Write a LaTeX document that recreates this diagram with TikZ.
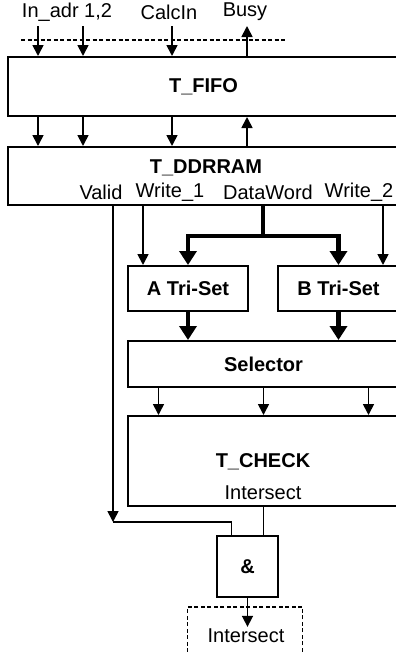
\documentclass[tikz,border=0pt]{standalone}
\usepackage{fontspec}
\setmainfont{Liberation Sans}
\usetikzlibrary{arrows.meta, positioning, calc}

\begin{document}
\begin{tikzpicture}[
    x=1pt, y=-1pt,
    every node/.style={font=\fontsize{20}{23}\selectfont, inner sep=0pt},
    unit/.style={draw, line width=2pt, font=\fontsize{20}{23}\selectfont\bfseries},
    title/.style={font=\fontsize{20}{23}\selectfont\bfseries},
    sig/.style={line width=1.7pt, -{Triangle[width=11pt, length=11pt]}},
    bus/.style={line width=4.5pt, -{Triangle[width=17pt, length=14pt]}},
    wire/.style={line width=1.2pt},
    frame/.style={dash pattern=on 4pt off 2.5pt, line width=1.5pt},
]
\useasboundingbox (0,0) rectangle (396,653);

% ---- Interface signals ----
\node (inadr)  at (67,12)  {In\_adr 1,2};
\node (calcin) at (169,12) {CalcIn};
\node (busy)   at (245,12) {Busy};
\draw[frame] (21,40) -- (286,40);

% ---- FIFO and DDR RAM ----
\node[unit, minimum width=391pt, minimum height=59pt] (fifo) at (203.5,86.5) {T\_FIFO};
\node[unit, minimum width=391pt, minimum height=58pt] (ddr)  at (203.5,176) {};
\node[title] (ddrname) at (206,168) {T\_DDRRAM};

% ---- Port labels ----
\node (lvalid) at (101,192) {Valid};
\node (lw1)    at (170,192) {Write\_1};
\node (ldw)    at (268,192) {DataWord};
\node (lw2)    at (359,192) {Write\_2};

% ---- Sets, selector, check ----
\node[unit, minimum width=120pt, minimum height=45pt] (aset)  at (188,288.5)   {A Tri-Set};
\node[unit, minimum width=121pt, minimum height=45pt] (bset)  at (338.5,288.5) {B Tri-Set};
\node[unit, minimum width=271pt, minimum height=46pt] (sel)   at (263.5,364)   {Selector};
\node[unit, minimum width=271pt, minimum height=90pt] (check) at (263.5,461)   {};
\node[title] (checkname) at (263,462) {T\_CHECK};
\node (checkout) at (263,493) {Intersect};

% ---- AND gate and output ----
\node[unit, minimum width=61pt, minimum height=61pt] (and) at (247.5,566.5) {\&};
\node[draw, frame, minimum width=115pt, minimum height=60pt, anchor=north] (outbox) at (245,606) {};
\node (outlbl) at (246,636) {Intersect};

% ---- Port positions ----
\coordinate (pa)    at (38,26);
\coordinate (pb)    at (83,26);
\coordinate (pc)    at (172,26);
\coordinate (pbusy) at (247,26);
\coordinate (valid) at (113,522);
\coordinate (w1)    at (143,205);
\coordinate (dw)    at (263,236);
\coordinate (w2)    at (383,205);

% ---- Inputs through the FIFO ----
\foreach \p in {pa,pb,pc} {
  \draw[sig] (\p) -- (\p |- fifo.north);
  \draw[sig] (\p |- fifo.south) -- (\p |- ddr.north);
}
\draw[sig] (pbusy |- fifo.north) -- (pbusy);
\draw[sig] (pbusy |- ddr.north) -- (pbusy |- fifo.south);

% ---- DDR RAM outputs ----
\draw[sig] (valid |- ddr.south) -- (valid);
\draw[sig] (w1 |- ddr.south) -- (w1 |- aset.north);
\draw[sig] (w2 |- ddr.south) -- (w2 |- bset.north);
\draw[line width=4.5pt] (dw |- ddr.south) -- (dw);
\draw[bus] (dw) -| (aset.north);
\draw[bus] (dw) -| (bset.north);

% ---- Sets to selector to check ----
\draw[bus] (aset.south) -- (aset.south |- sel.north);
\draw[bus] (bset.south) -- (bset.south |- sel.north);
\foreach \dx in {-105,0,105}
  \draw[sig] ([xshift=\dx pt]sel.south) -- ([xshift=\dx pt]check.north);

% ---- AND inputs and output ----
\draw[wire] (valid) -| ($(and.north west)!0.25!(and.north east)$);
\draw[wire] (check.south) -- (check.south |- and.north);
\draw[sig, shorten >=2pt] (and.south) -- (and.south |- outlbl.north);

\end{tikzpicture}
\end{document}
